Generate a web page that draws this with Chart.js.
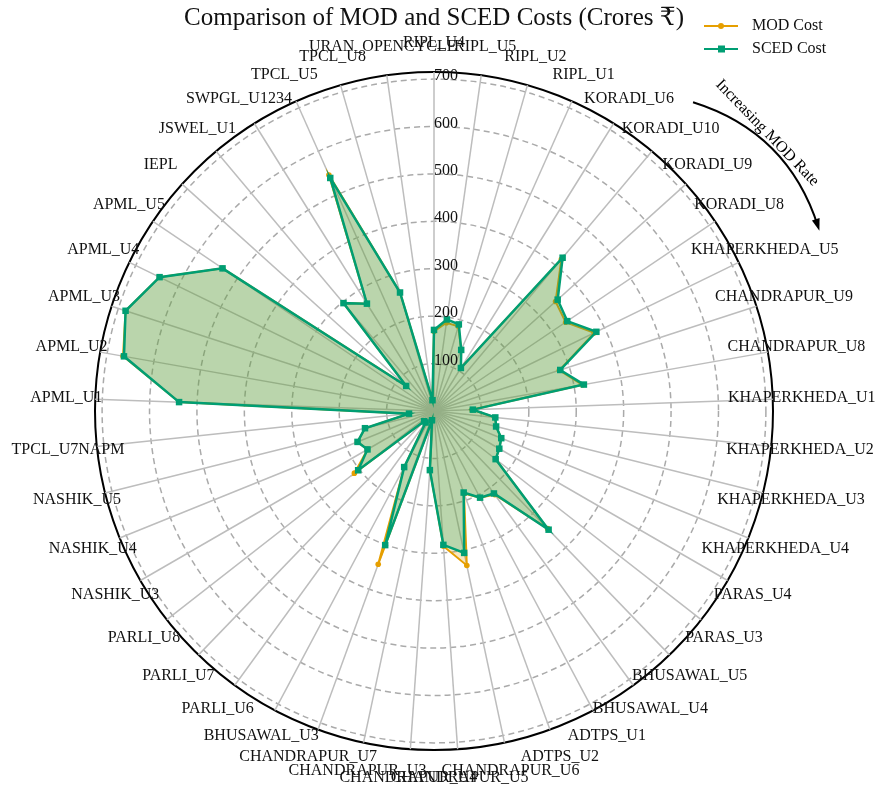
<!DOCTYPE html>
<html>
<head>
<meta charset="utf-8">
<script src="https://cdn.jsdelivr.net/npm/chart.js@4"></script>
<style>
  html, body { margin: 0; padding: 0; background: #fff; }
  #wrap { width: 877px; height: 791px; }
</style>
</head>
<body>
<div id="wrap"><canvas id="radarChart"></canvas></div>
<script>
// Units, ordered by increasing MOD rate (clockwise from top)
const units = [
  "RIPL_U4", "RIPL_U5", "RIPL_U2", "RIPL_U1", "KORADI_U6", "KORADI_U10",
  "KORADI_U9", "KORADI_U8", "KHAPERKHEDA_U5", "CHANDRAPUR_U9", "CHANDRAPUR_U8",
  "KHAPERKHEDA_U1", "KHAPERKHEDA_U2", "KHAPERKHEDA_U3", "KHAPERKHEDA_U4",
  "PARAS_U4", "PARAS_U3", "BHUSAWAL_U5", "BHUSAWAL_U4", "ADTPS_U1", "ADTPS_U2",
  "CHANDRAPUR_U6", "CHANDRAPUR_U5", "CHANDRAPUR_U4", "CHANDRAPUR_U3",
  "CHANDRAPUR_U7", "BHUSAWAL_U3", "PARLI_U6", "PARLI_U7", "PARLI_U8",
  "NASHIK_U3", "NASHIK_U4", "NASHIK_U5", "TPCL_U7NAPM", "APML_U1", "APML_U2",
  "APML_U3", "APML_U4", "APML_U5", "IEPL", "JSWEL_U1", "SWPGL_U1234",
  "TPCL_U5", "TPCL_U8", "URAN_OPENCYCLE"
];

// Costs in crores
const modCost = [
  168, 188, 186, 141, 107, 418, 345, 335, 376, 278, 318,
  80, 130, 135, 153, 159, 165, 345, 218, 207, 185,
  333, 286, 125, 20, 344, 134, 30, 30, 213,
  162, 174, 150, 53, 538, 666, 684, 644, 538, 79, 297,
  267, 545, 260, 23
];
const scedCost = [
  171, 195, 190, 141, 107, 422, 351, 339, 381, 280, 321,
  82, 130, 135, 153, 159, 165, 348, 215, 207, 183,
  306, 283, 125, 20, 301, 134, 30, 30, 203,
  162, 174, 150, 53, 538, 664, 684, 644, 538, 79, 297,
  267, 538, 260, 23
];

const radialTicks = [100, 200, 300, 400, 500, 600, 700];
const radialMax = 715;

const serif = "'Liberation Serif', 'Times New Roman', 'DejaVu Serif', serif";
const modColor = "#E69F00";
const scedColor = "#009E73";

// labels, radial ticks, legend and the "Increasing MOD Rate" arrow
const decorations = {
  id: "decorations",
  afterDraw(chart) {
    const ctx = chart.ctx;
    const r = chart.scales.r;
    ctx.save();
    ctx.fillStyle = "#111";

    // unit names centred just outside the outer circle
    ctx.font = "16px " + serif;
    ctx.textAlign = "center";
    ctx.textBaseline = "middle";
    units.forEach((u, i) => {
      const p = r.getPointPosition(i, r.drawingArea + 29);
      ctx.fillText(u, p.x, p.y);
    });

    // radial tick labels along the top spoke
    ctx.textAlign = "left";
    ctx.textBaseline = "alphabetic";
    radialTicks.forEach(v => {
      const d = r.getDistanceFromCenterForValue(v);
      ctx.fillText(String(v), r.xCenter, r.yCenter - d + 1);
    });

    // legend
    const sets = chart.data.datasets;
    sets.forEach((ds, k) => {
      const y = 26 + k * 23;
      ctx.strokeStyle = ds.borderColor;
      ctx.lineWidth = 2;
      ctx.beginPath();
      ctx.moveTo(704, y);
      ctx.lineTo(738, y);
      ctx.stroke();
      ctx.fillStyle = ds.borderColor;
      if (ds.pointStyle === "rect") {
        ctx.fillRect(718, y - 3.5, 7, 7);
      } else {
        ctx.beginPath();
        ctx.arc(721, y, 3, 0, Math.PI * 2);
        ctx.fill();
      }
      ctx.fillStyle = "#111";
      ctx.font = "16px " + serif;
      ctx.textBaseline = "middle";
      ctx.fillText(ds.label, 752, y);
    });

    // curved arrow from unit 5 to unit 8 outside the plot
    const p0 = r.getPointPosition(5, r.drawingArea + 64);
    const p2 = r.getPointPosition(8.05, r.drawingArea + 87);
    const mx = (p0.x + p2.x) / 2, my = (p0.y + p2.y) / 2;
    const dx = p2.x - p0.x, dy = p2.y - p0.y;
    const len = Math.hypot(dx, dy);
    const bulge = 46;
    const c = { x: mx + (-dy / len) * -bulge, y: my + (dx / len) * -bulge };
    ctx.strokeStyle = "#000";
    ctx.lineWidth = 2;
    ctx.beginPath();
    ctx.moveTo(p0.x, p0.y);
    ctx.quadraticCurveTo(c.x, c.y, p2.x, p2.y);
    ctx.stroke();
    const ang = Math.atan2(p2.y - c.y, p2.x - c.x);
    ctx.fillStyle = "#000";
    ctx.beginPath();
    ctx.moveTo(p2.x + Math.cos(ang) * 4, p2.y + Math.sin(ang) * 4);
    ctx.lineTo(p2.x - Math.cos(ang) * 8 + Math.sin(ang) * 4, p2.y - Math.sin(ang) * 8 - Math.cos(ang) * 4);
    ctx.lineTo(p2.x - Math.cos(ang) * 8 - Math.sin(ang) * 4, p2.y - Math.sin(ang) * 8 + Math.cos(ang) * 4);
    ctx.closePath();
    ctx.fill();

    const t = r.getPointPosition(6.27, r.drawingArea + 95);
    ctx.translate(t.x, t.y);
    ctx.rotate(46 * Math.PI / 180);
    ctx.textAlign = "center";
    ctx.textBaseline = "middle";
    ctx.font = "16px " + serif;
    ctx.fillText("Increasing MOD Rate", 0, 0);
    ctx.restore();
  }
};

const radarCtx = document.getElementById("radarChart").getContext("2d");
const radarChart = new Chart(radarCtx, {
  type: "radar",
  data: {
    labels: units,
    datasets: [
      {
        label: "MOD Cost",
        data: modCost,
        order: 2,
        borderColor: modColor,
        backgroundColor: "rgba(230, 159, 0, 0.25)",
        fill: true,
        borderWidth: 2,
        pointStyle: "circle",
        pointRadius: 2.8,
        pointBorderWidth: 0,
        pointBackgroundColor: modColor,
      },
      {
        label: "SCED Cost",
        data: scedCost,
        order: 1,
        borderColor: scedColor,
        backgroundColor: "rgba(0, 158, 115, 0.25)",
        fill: true,
        borderWidth: 2.5,
        pointStyle: "rect",
        pointRadius: 4.6,
        pointBorderWidth: 0,
        pointBackgroundColor: scedColor,
      },
    ],
  },
  options: {
    responsive: true,
    maintainAspectRatio: false,
    animation: false,
    layout: {
      padding: { left: 95, right: 104, top: 0, bottom: 41 },
    },
    scales: {
      r: {
        min: 0,
        max: radialMax,
        startAngle: 0,
        ticks: { display: false, stepSize: 100 },
        pointLabels: { display: false },
        angleLines: { color: "#bdbdbd", lineWidth: 1.5 },
        grid: {
          circular: true,
          color: (c) => (c.tick && c.tick.value > 700 ? "#000" : "#aaaaaa"),
          lineWidth: (c) => (c.tick && c.tick.value > 700 ? 2 : 1.5),
        },
        border: {
          dash: (c) => (c.tick && c.tick.value > 700 ? [] : [6, 4]),
        },
      },
    },
    plugins: {
      legend: { display: false },
      tooltip: { enabled: false },
      title: {
        display: true,
        text: "Comparison of MOD and SCED Costs (Crores ₹)",
        color: "#111",
        font: { family: serif, size: 25, weight: "normal" },
        padding: { top: 3, bottom: 39 },
      },
    },
  },
  plugins: [decorations],
});
</script>
</body>
</html>
